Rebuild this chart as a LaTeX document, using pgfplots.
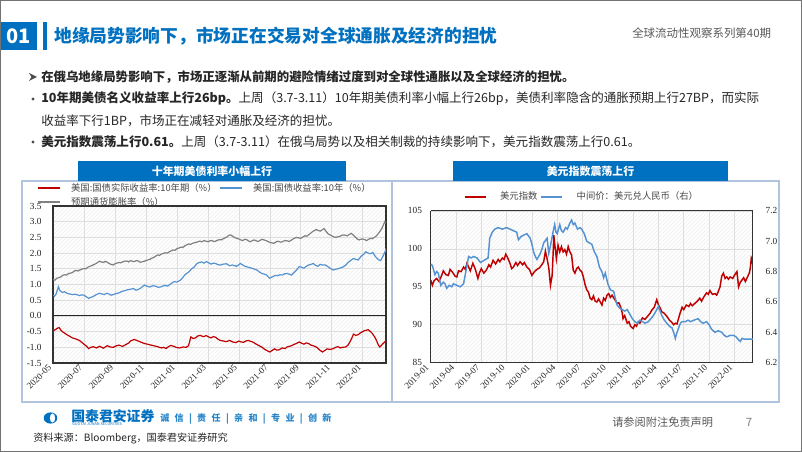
\documentclass[border=0pt]{standalone}
\usepackage{fontspec}
\setmainfont{Noto Sans CJK SC}
\newfontfamily\tnr{Liberation Serif}
\usepackage{pgfplots}
\pgfplotsset{compat=1.18}
\usetikzlibrary{patterns}
\definecolor{hblue}{RGB}{0,112,192}
\definecolor{dred}{RGB}{192,0,0}
\definecolor{sblue}{RGB}{84,146,210}
\definecolor{lgray}{RGB}{128,128,128}
\definecolor{txt}{RGB}{38,38,38}
\definecolor{pborder}{RGB}{176,196,222}
\pgfplotsset{
  mystyle/.style={
    scale only axis,
    axis line style={black!80, line width=0.8pt},
    major tick length=0pt,
    grid=major, grid style={black!13, line width=0.5pt},
    axis background/.style={pattern=north east lines, pattern color=black!7},
    tick label style={font=\tnr\fontsize{7}{8}\selectfont, text=txt},
    xticklabel style={rotate=45, anchor=east, font=\tnr\fontsize{6.8}{8}\selectfont},
    yticklabel style={/pgf/number format/fixed, /pgf/number format/fixed zerofill,
      /pgf/number format/precision=1, /pgf/number format/assume math mode=true},
    legend cell align=left,
    legend image code/.code={\draw[##1, line width=1.4pt] (0pt,0pt) -- (16pt,0pt);},
  }
}
\begin{document}
\begin{tikzpicture}
\begin{scope}[x=0.75pt,y=-0.75pt]
\path[use as bounding box] (0,0) rectangle (802,452);
\fill[white] (0,0) rectangle (802,452);
% header
\fill[hblue] (0,22) rectangle (37,50);
\node[white, font=\bfseries\fontsize{15}{15}\selectfont] at (18.5,36) {01};
\fill[hblue] (43,22) rectangle (46.5,50);
\node[anchor=west, text=hblue, font=\bfseries\fontsize{13.3}{14}\selectfont, inner sep=0] at (54,36) {地缘局势影响下，市场正在交易对全球通胀及经济的担忧};
\node[anchor=west, text=black!65, font=\fontsize{8.6}{10}\selectfont, inner sep=0] at (632,33) {全球流动性观察系列第40期};
% bullets
\fill[black!70] (29,73) -- (37,77) -- (29,81) -- (31.5,77) -- cycle;
\node[anchor=west, inner sep=0, text=txt, font=\bfseries\fontsize{9.3}{11}\selectfont] at (41,77) {在俄乌地缘局势影响下，市场正逐渐从前期的避险情绪过度到对全球性通胀以及全球经济的担忧。};
\fill[black!70] (33,99) circle (1.6);
\node[anchor=west, inner sep=0, text=txt, font=\fontsize{9.4}{11}\selectfont] at (41,99) {\bfseries 10年期美债名义收益率上行26bp。\mdseries 上周（3.7-3.11）10年期美债利率小幅上行26bp，美债利率隐含的通胀预期上行27BP，而实际};
\node[anchor=west, inner sep=0, text=txt, font=\fontsize{9.4}{11}\selectfont] at (41,121) {收益率下行1BP，市场正在减轻对通胀及经济的担忧。};
\fill[black!70] (33,142) circle (1.6);
\node[anchor=west, inner sep=0, text=txt, font=\fontsize{9.4}{11}\selectfont] at (41,142) {\bfseries 美元指数震荡上行0.61。\mdseries 上周（3.7-3.11）在俄乌局势以及相关制裁的持续影响下，美元指数震荡上行0.61。};
% panels
\draw[pborder, line width=0.9pt] (22,181) rectangle (392,402);
\draw[pborder, line width=0.9pt] (392,181) rectangle (779,402);
\fill[hblue] (78,161) rectangle (346,181);
\node[white, font=\bfseries\fontsize{8.2}{9}\selectfont] at (212,171) {十年期美债利率小幅上行};
\fill[hblue] (453,161) rectangle (728,181);
\node[white, font=\bfseries\fontsize{8.2}{9}\selectfont] at (590.5,171) {美元指数震荡上行};
% footer
\fill[hblue] (50.5,418) ellipse (6.8 and 5.6);
\fill[white] (52.5,418) ellipse (2.6 and 4.6);
\node[anchor=west, inner sep=0, text=hblue, font=\bfseries\fontsize{10.4}{11}\selectfont] at (71,416.5) {国泰君安证券};
\node[anchor=west, inner sep=0, text=hblue, font=\fontsize{2.9}{3}\selectfont] at (72,424.5) {GUOTAI JUNAN SECURITIES};
\node[anchor=west, inner sep=0, text=hblue!85, font=\bfseries\fontsize{6.8}{8}\selectfont] at (160,419) {诚\hspace{4pt}信\hspace{4pt}|\hspace{4pt}责\hspace{4pt}任\hspace{4pt}|\hspace{4pt}亲\hspace{4pt}和\hspace{4pt}|\hspace{4pt}专\hspace{4pt}业\hspace{4pt}|\hspace{4pt}创\hspace{4pt}新};
\node[anchor=west, inner sep=0, text=txt, font=\fontsize{7.6}{9}\selectfont] at (33,438) {资料来源：Bloomberg，国泰君安证券研究};
\node[anchor=west, inner sep=0, text=black!65, font=\fontsize{8.4}{10}\selectfont] at (612,422) {请参阅附注免责声明};
\node[anchor=center, inner sep=0, text=black!50, font=\fontsize{8.6}{10}\selectfont] at (749,422) {7};
\draw[black!55, line width=0.75pt] (0.5,0.5) rectangle (801.5,451.5);
\end{scope}

% ---------- left chart ----------
\begin{axis}[mystyle, at={(39.75pt,-272.25pt)}, anchor=south west,
  width=249.75pt, height=117.75pt,
  xmin=0, xmax=21.5, ymin=-1.5, ymax=3.5,
  ytick={-1.5,-1,-0.5,0,0.5,1,1.5,2,2.5,3,3.5},
  yticklabel style={xshift=-5pt},
  xtick={0,2,...,20},
  xticklabels={2020-05,2020-07,2020-09,2020-11,2021-01,2021-03,2021-05,2021-07,2021-09,2021-11,2022-01},
  extra y ticks={0}, extra y tick labels={},
  extra y tick style={grid style={black!85, line width=0.8pt}},
  legend columns=2,
  legend style={at={(-0.048,1.165)}, anchor=north west, draw=none, fill=none,
    font=\fontsize{7}{8}\selectfont, text=txt!85, inner sep=0pt, row sep=-1pt,
    /tikz/every odd column/.append style={column sep=6pt}},
]
\addplot[dred, line width=0.9pt] coordinates {
(0.00,-0.48)(0.15,-0.44)(0.25,-0.40)(0.40,-0.37)(0.50,-0.45)(0.60,-0.50)(0.75,-0.55)(0.90,-0.60)(1.05,-0.64)(1.25,-0.70)(1.45,-0.73)(1.70,-0.78)(1.85,-0.84)(2.00,-0.90)(2.15,-0.96)(2.30,-1.04)(2.45,-1.00)(2.60,-0.98)(2.80,-1.02)(3.00,-0.97)(3.15,-1.00)(3.25,-1.03)(3.50,-0.95)(3.70,-0.99)(3.90,-1.00)(4.10,-0.95)(4.25,-0.93)(4.50,-0.97)(4.75,-0.90)(4.90,-0.86)(5.00,-0.80)(5.25,-0.75)(5.50,-0.80)(5.70,-0.84)(5.90,-0.88)(6.10,-0.90)(6.25,-0.92)(6.50,-0.95)(6.75,-0.98)(7.00,-1.02)(7.15,-1.00)(7.30,-1.04)(7.45,-0.98)(7.60,-0.94)(7.80,-0.97)(8.00,-1.01)(8.20,-1.02)(8.40,-0.99)(8.60,-1.00)(8.75,-0.95)(8.90,-0.67)(9.05,-0.72)(9.20,-0.70)(9.35,-0.64)(9.50,-0.62)(9.70,-0.66)(9.90,-0.63)(10.05,-0.67)(10.20,-0.70)(10.35,-0.66)(10.50,-0.68)(10.65,-0.74)(10.80,-0.78)(11.00,-0.80)(11.20,-0.82)(11.40,-0.78)(11.60,-0.83)(11.80,-0.85)(12.00,-0.80)(12.15,-0.83)(12.30,-0.84)(12.45,-0.80)(12.60,-0.78)(12.75,-0.81)(12.90,-0.83)(13.05,-0.88)(13.20,-0.92)(13.35,-0.96)(13.50,-1.00)(13.65,-1.06)(13.80,-1.10)(14.00,-1.15)(14.15,-1.10)(14.30,-1.05)(14.45,-1.09)(14.60,-1.08)(14.80,-1.02)(15.00,-1.04)(15.10,-0.99)(15.25,-0.97)(15.40,-0.95)(15.55,-0.91)(15.70,-0.88)(15.90,-0.83)(16.05,-0.87)(16.20,-0.90)(16.35,-0.86)(16.50,-0.88)(16.65,-0.93)(16.80,-0.95)(17.00,-0.99)(17.20,-1.08)(17.40,-1.15)(17.55,-1.10)(17.70,-1.05)(17.90,-1.07)(18.10,-1.04)(18.25,-1.00)(18.40,-0.98)(18.55,-1.02)(18.70,-1.00)(18.90,-0.99)(19.05,-0.93)(19.20,-0.80)(19.30,-0.70)(19.40,-0.58)(19.55,-0.62)(19.70,-0.60)(19.85,-0.54)(20.00,-0.50)(20.10,-0.47)(20.20,-0.46)(20.35,-0.44)(20.50,-0.50)(20.60,-0.55)(20.70,-0.62)(20.80,-0.70)(20.90,-0.80)(21.00,-0.92)(21.10,-0.99)(21.20,-0.94)(21.30,-0.88)(21.40,-0.84)(21.50,-0.78)};
\addlegendentry{美国:国债实际收益率:10年期（\%）}
\addplot[sblue, line width=0.9pt] coordinates {
(0.00,0.66)(0.10,0.63)(0.20,0.70)(0.35,0.93)(0.45,0.80)(0.60,0.75)(0.75,0.77)(0.90,0.72)(1.05,0.70)(1.25,0.68)(1.45,0.69)(1.70,0.65)(1.85,0.67)(2.00,0.66)(2.15,0.61)(2.30,0.56)(2.45,0.59)(2.60,0.62)(2.80,0.68)(3.00,0.72)(3.15,0.70)(3.30,0.68)(3.45,0.72)(3.60,0.70)(3.75,0.66)(3.90,0.68)(4.05,0.71)(4.25,0.73)(4.45,0.78)(4.60,0.80)(4.80,0.83)(5.00,0.85)(5.20,0.87)(5.35,0.82)(5.50,0.84)(5.70,0.90)(5.90,0.98)(6.10,0.94)(6.25,0.92)(6.45,0.96)(6.60,0.95)(6.80,0.91)(7.00,0.93)(7.20,0.97)(7.40,0.95)(7.60,1.02)(7.80,1.09)(8.00,1.08)(8.20,1.13)(8.35,1.20)(8.50,1.30)(8.65,1.36)(8.80,1.41)(8.95,1.50)(9.10,1.55)(9.30,1.67)(9.45,1.70)(9.60,1.72)(9.75,1.68)(9.90,1.73)(10.05,1.69)(10.20,1.65)(10.35,1.68)(10.50,1.67)(10.65,1.63)(10.80,1.62)(11.00,1.65)(11.20,1.66)(11.40,1.60)(11.60,1.62)(11.85,1.58)(12.10,1.67)(12.25,1.62)(12.40,1.58)(12.60,1.55)(12.75,1.53)(12.90,1.51)(13.05,1.48)(13.20,1.45)(13.35,1.39)(13.50,1.35)(13.65,1.33)(13.80,1.30)(13.90,1.24)(14.00,1.20)(14.10,1.23)(14.20,1.25)(14.35,1.29)(14.50,1.28)(14.65,1.31)(14.80,1.30)(14.95,1.34)(15.10,1.35)(15.25,1.33)(15.40,1.30)(15.55,1.38)(15.70,1.45)(15.90,1.57)(16.05,1.55)(16.20,1.52)(16.35,1.58)(16.50,1.62)(16.65,1.64)(16.80,1.67)(16.95,1.61)(17.10,1.58)(17.25,1.64)(17.40,1.62)(17.60,1.62)(17.80,1.55)(17.95,1.50)(18.10,1.46)(18.25,1.49)(18.40,1.50)(18.55,1.53)(18.70,1.55)(18.90,1.62)(19.05,1.70)(19.20,1.76)(19.40,1.83)(19.55,1.80)(19.70,1.78)(19.90,1.90)(20.05,1.96)(20.20,2.04)(20.35,2.00)(20.50,1.98)(20.65,2.02)(20.80,1.90)(20.95,1.82)(21.05,1.78)(21.15,1.76)(21.25,1.85)(21.35,1.95)(21.45,2.05)(21.50,2.15)};
\addlegendentry{美国:国债收益率:10年（\%）}
\addplot[lgray, line width=0.9pt] coordinates {
(0.00,1.16)(0.12,1.14)(0.25,1.20)(0.38,1.22)(0.50,1.24)(0.62,1.29)(0.75,1.31)(0.88,1.30)(1.00,1.35)(1.12,1.36)(1.25,1.38)(1.38,1.43)(1.50,1.45)(1.62,1.43)(1.75,1.47)(1.88,1.49)(2.00,1.51)(2.12,1.50)(2.25,1.55)(2.38,1.58)(2.50,1.60)(2.62,1.63)(2.75,1.66)(2.88,1.70)(3.00,1.74)(3.12,1.72)(3.25,1.70)(3.38,1.74)(3.50,1.71)(3.62,1.67)(3.75,1.64)(3.88,1.62)(4.00,1.66)(4.12,1.68)(4.25,1.70)(4.38,1.69)(4.50,1.72)(4.62,1.74)(4.75,1.75)(4.88,1.72)(5.00,1.76)(5.12,1.74)(5.25,1.73)(5.38,1.76)(5.50,1.75)(5.62,1.71)(5.75,1.72)(5.88,1.74)(6.00,1.76)(6.12,1.78)(6.25,1.80)(6.38,1.84)(6.50,1.86)(6.62,1.90)(6.75,1.94)(6.88,1.93)(7.00,1.97)(7.12,1.99)(7.25,2.01)(7.38,2.00)(7.50,2.04)(7.62,2.07)(7.75,2.10)(7.88,2.09)(8.00,2.14)(8.12,2.16)(8.25,2.19)(8.38,2.18)(8.50,2.23)(8.62,2.26)(8.75,2.29)(8.88,2.28)(9.00,2.31)(9.12,2.33)(9.25,2.34)(9.38,2.37)(9.50,2.38)(9.62,2.36)(9.75,2.40)(9.88,2.38)(10.00,2.36)(10.12,2.39)(10.25,2.40)(10.38,2.37)(10.50,2.38)(10.62,2.41)(10.75,2.43)(10.88,2.42)(11.00,2.46)(11.12,2.49)(11.25,2.52)(11.38,2.58)(11.50,2.57)(11.62,2.53)(11.75,2.49)(11.88,2.47)(12.00,2.45)(12.12,2.42)(12.25,2.40)(12.38,2.44)(12.50,2.43)(12.62,2.39)(12.75,2.36)(12.88,2.40)(13.00,2.42)(13.12,2.39)(13.25,2.37)(13.38,2.41)(13.50,2.44)(13.62,2.42)(13.75,2.40)(13.88,2.37)(14.00,2.34)(14.12,2.33)(14.25,2.31)(14.38,2.35)(14.50,2.38)(14.62,2.36)(14.75,2.35)(14.88,2.38)(15.00,2.40)(15.12,2.39)(15.25,2.37)(15.38,2.41)(15.50,2.45)(15.62,2.48)(15.75,2.50)(15.88,2.48)(16.00,2.47)(16.12,2.51)(16.25,2.55)(16.38,2.54)(16.50,2.58)(16.62,2.63)(16.75,2.68)(16.88,2.72)(17.00,2.75)(17.12,2.72)(17.25,2.70)(17.38,2.74)(17.50,2.78)(17.62,2.70)(17.75,2.62)(17.88,2.58)(18.00,2.55)(18.12,2.52)(18.25,2.50)(18.38,2.52)(18.50,2.53)(18.62,2.56)(18.75,2.58)(18.88,2.57)(19.00,2.55)(19.12,2.59)(19.25,2.63)(19.38,2.58)(19.50,2.52)(19.62,2.46)(19.75,2.42)(19.88,2.44)(20.00,2.45)(20.12,2.43)(20.25,2.40)(20.38,2.44)(20.50,2.47)(20.62,2.46)(20.75,2.50)(20.88,2.55)(21.00,2.62)(21.12,2.70)(21.25,2.80)(21.35,2.92)(21.42,3.00)(21.50,2.95)};
\addlegendentry{预期通货膨胀率（\%）}
\end{axis}

% ---------- right chart (left y) ----------
\begin{axis}[mystyle, at={(323.0pt,-272.0pt)}, anchor=south west,
  width=241.7pt, height=113.8pt,
  xmin=0, xmax=38.2, ymin=85, ymax=105,
  ytick={85,90,95,100,105},
  axis y line*=left,
  yticklabel style={/pgf/number format/precision=0, xshift=-3pt},
  xtick={0,3,...,36},
  xticklabels={2019-01,2019-04,2019-07,2019-10,2020-01,2020-04,2020-07,2020-10,2021-01,2021-04,2021-07,2021-10,2022-01},
]
\addplot[dred, line width=1.1pt] coordinates {
(0,95.9)(0.2,95.2)(0.4,95.8)(0.7,96.1)(1.0,95.7)(1.3,96.5)(1.5,97.1)(1.8,96.6)(2.1,96.5)(2.3,97.3)(2.6,96.9)(2.9,96.4)(3.1,96.3)(3.3,97.1)(3.6,97.0)(3.9,97.6)(4.1,97.3)(4.3,98.1)(4.5,97.6)(4.7,97.1)(5.0,98.1)(5.3,97.3)(5.6,96.1)(5.8,96.9)(6.0,97.4)(6.3,96.8)(6.6,97.2)(6.9,97.9)(7.1,97.6)(7.4,98.5)(7.7,98.0)(8.0,98.6)(8.2,98.3)(8.5,98.8)(8.7,98.6)(8.9,99.3)(9.1,98.9)(9.4,98.1)(9.6,97.4)(9.8,97.6)(10.1,98.2)(10.3,97.8)(10.6,98.3)(10.9,97.9)(11.1,98.2)(11.4,97.6)(11.7,97.3)(12.0,96.5)(12.3,97.0)(12.6,97.3)(12.9,97.5)(13.1,97.8)(13.4,98.3)(13.6,99.7)(13.8,98.7)(14.0,97.5)(14.2,95.2)(14.4,96.5)(14.5,99.0)(14.6,101.8)(14.75,100.2)(14.9,98.7)(15.1,100.5)(15.3,99.6)(15.5,100.3)(15.7,99.6)(15.9,99.9)(16.1,99.3)(16.3,100.3)(16.5,99.6)(16.7,99.2)(16.9,97.2)(17.1,96.8)(17.3,97.4)(17.5,97.6)(17.7,97.2)(17.9,97.0)(18.1,96.3)(18.3,95.3)(18.5,94.6)(18.7,94.3)(18.9,93.5)(19.1,93.3)(19.3,93.8)(19.5,93.1)(19.7,93.0)(19.9,93.4)(20.1,93.0)(20.3,92.6)(20.5,93.5)(20.7,93.2)(20.9,93.9)(21.1,94.1)(21.3,93.6)(21.5,93.9)(21.7,93.5)(21.9,93.2)(22.1,92.8)(22.3,92.9)(22.5,92.4)(22.7,91.6)(22.8,90.8)(23.0,91.2)(23.3,90.2)(23.5,90.4)(23.7,89.8)(24.0,89.5)(24.2,90.0)(24.4,89.8)(24.6,90.4)(24.8,90.2)(25.1,90.9)(25.4,90.7)(25.7,91.1)(26.0,91.5)(26.2,91.9)(26.5,92.3)(26.8,93.3)(27.0,92.6)(27.2,92.2)(27.4,91.7)(27.7,91.5)(28.0,91.1)(28.3,90.6)(28.6,90.3)(28.8,90.0)(29.0,90.2)(29.2,90.1)(29.5,91.3)(29.8,92.3)(30.0,92.0)(30.3,92.6)(30.6,92.4)(30.8,92.8)(31.0,92.5)(31.3,92.8)(31.6,93.1)(31.9,93.5)(32.1,93.1)(32.4,93.7)(32.7,94.2)(32.9,94.0)(33.1,94.5)(33.4,94.0)(33.7,94.1)(33.9,93.9)(34.1,94.4)(34.3,95.0)(34.5,96.4)(34.7,96.8)(34.9,96.1)(35.1,96.3)(35.3,96.0)(35.5,96.3)(35.8,96.1)(36.0,96.5)(36.3,97.0)(36.5,95.0)(36.7,95.6)(36.9,95.9)(37.1,96.2)(37.3,95.7)(37.6,96.4)(37.8,96.9)(37.9,97.6)(38.0,98.7)(38.1,98.3)(38.2,99.2)};
\addplot[dred, line width=1.1pt, forget plot] coordinates {(38.2,99.2)(38.2,85)};
\end{axis}

% ---------- right chart (right y) ----------
\begin{axis}[mystyle, at={(323.0pt,-272.0pt)}, anchor=south west,
  width=241.7pt, height=113.8pt,
  xmin=0, xmax=38.2, ymin=6.2, ymax=7.2,
  ytick={6.2,6.4,6.6,6.8,7.0,7.2},
  axis x line=none, axis y line*=right, grid=none,
  axis background/.style={},
  yticklabel style={xshift=6pt},
  legend columns=2,
  legend style={at={(0.47,1.145)}, anchor=north, draw=none, fill=none,
    font=\fontsize{7}{8}\selectfont, text=txt!85, inner sep=0pt,
    /tikz/every odd column/.append style={column sep=8pt}},
]
\addlegendimage{dred, line width=1.4pt}
\addlegendentry{美元指数}
\addplot[sblue, line width=1.1pt] coordinates {
(0,6.85)(0.2,6.84)(0.5,6.78)(0.7,6.80)(0.9,6.79)(1.2,6.71)(1.5,6.73)(1.7,6.72)(1.9,6.69)(2.2,6.71)(2.5,6.70)(2.7,6.72)(3.1,6.71)(3.5,6.70)(3.9,6.72)(4.1,6.78)(4.3,6.84)(4.5,6.90)(4.8,6.89)(5.1,6.90)(5.5,6.89)(5.9,6.86)(6.2,6.87)(6.5,6.88)(6.8,6.89)(6.9,6.95)(7.0,7.02)(7.3,7.06)(7.6,7.08)(8.0,7.09)(8.5,7.08)(9.0,7.09)(9.4,7.08)(9.8,7.07)(10.2,7.06)(10.4,7.01)(10.7,7.03)(11.0,7.04)(11.4,7.05)(11.8,7.02)(12.0,6.98)(12.2,6.93)(12.4,6.90)(12.6,6.88)(12.8,6.90)(13.0,6.92)(13.2,6.95)(13.4,6.99)(13.8,7.02)(14.0,6.92)(14.2,6.97)(14.5,7.06)(14.7,7.11)(14.85,7.06)(15.0,7.05)(15.3,7.11)(15.5,7.07)(15.7,7.06)(16.0,7.09)(16.2,7.08)(16.5,7.12)(16.7,7.14)(16.9,7.11)(17.1,7.12)(17.4,7.08)(17.7,7.09)(17.9,7.08)(18.2,7.05)(18.5,7.00)(18.8,6.99)(19.1,6.98)(19.4,6.93)(19.7,6.90)(20.0,6.83)(20.3,6.80)(20.5,6.76)(20.7,6.79)(21.0,6.72)(21.3,6.68)(21.7,6.67)(21.9,6.62)(22.1,6.58)(22.4,6.56)(22.7,6.55)(23.0,6.54)(23.3,6.55)(23.6,6.52)(23.9,6.49)(24.2,6.47)(24.5,6.46)(24.8,6.48)(25.1,6.47)(25.4,6.46)(25.8,6.47)(26.1,6.49)(26.4,6.51)(26.7,6.54)(27.0,6.57)(27.2,6.54)(27.4,6.51)(27.7,6.48)(28.0,6.46)(28.3,6.44)(28.6,6.43)(28.8,6.40)(29.0,6.36)(29.2,6.40)(29.4,6.43)(29.6,6.46)(29.8,6.47)(30.2,6.47)(30.5,6.48)(30.8,6.47)(31.2,6.48)(31.7,6.49)(32.0,6.47)(32.3,6.46)(32.7,6.47)(33.0,6.45)(33.3,6.42)(33.7,6.40)(34.1,6.41)(34.5,6.40)(34.8,6.38)(35.1,6.37)(35.5,6.38)(35.9,6.38)(36.2,6.37)(36.5,6.35)(36.7,6.34)(36.9,6.36)(37.2,6.355)(37.5,6.355)(38.2,6.355)};
\addlegendentry{中间价：美元兑人民币（右）}
\end{axis}
\end{tikzpicture}
\end{document}
